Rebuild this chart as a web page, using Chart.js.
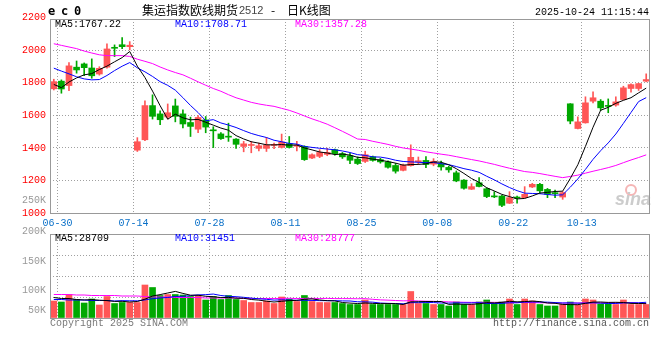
<!DOCTYPE html>
<html><head><meta charset="utf-8">
<script src="https://cdn.jsdelivr.net/npm/chart.js@4.4.1/dist/chart.umd.min.js"></script>
<style>
html,body{margin:0;padding:0;background:#fff;}
#wrap{position:relative;width:660px;height:360px;overflow:hidden;background:#fff;}
canvas{position:absolute;left:0;}
#pc{top:0;} #vc{top:222px;}
</style></head><body>
<div id="wrap"><canvas id="pc" width="660" height="230"></canvas><canvas id="vc" width="660" height="138"></canvas></div>
<script>
const dates = ['06-27','06-30','07-01','07-02','07-03','07-04','07-07','07-08','07-09','07-10','07-11','07-14','07-15','07-16','07-17','07-18','07-21','07-22','07-23','07-24','07-25','07-28','07-29','07-30','07-31','08-01','08-04','08-05','08-06','08-07','08-08','08-11','08-12','08-13','08-14','08-15','08-18','08-19','08-20','08-21','08-22','08-25','08-26','08-27','08-28','08-29','09-01','09-02','09-03','09-04','09-05','09-08','09-09','09-10','09-11','09-12','09-15','09-16','09-17','09-18','09-19','09-22','09-23','09-24','09-25','09-26','09-29','09-30','10-09','10-10','10-13','10-14','10-15','10-16','10-17','10-20','10-21','10-22','10-23'];
const axisDates = ['06-30','07-14','07-28','08-11','08-25','09-08','09-22','10-13'];

const opens = [1763,1810,1783,1896,1916,1891,1854,1896,2018,2034,
 2022,1386,1450,1660,1609,1590,1658,1609,1556,1515,
 1572,1510,1486,1470,1454,1409,1415,1397,1397,1415,
 1403,1426,1410,1409,1338,1348,1360,1389,1365,1352,
 1331,1317,1345,1328,1314,1292,1262,1291,1315,1323,
 1300,1303,1280,1247,1202,1146,1186,1149,1102,1104,
 1060,1096,1094,1160,1176,1145,1123,1098,1671,1519,
 1554,1687,1687,1658,1663,1697,1765,1765,1810];
const highs = [1822,1818,1924,1934,1922,1947,1899,2039,2033,2078,
 2053,1463,1689,1726,1628,1670,1700,1634,1589,1599,
 1593,1530,1494,1552,1458,1440,1440,1429,1464,1429,
 1485,1470,1440,1413,1364,1389,1398,1393,1372,1366,
 1345,1380,1350,1336,1320,1305,1300,1419,1344,1347,
 1334,1319,1288,1258,1206,1180,1217,1155,1131,1108,
 1131,1104,1162,1182,1182,1151,1141,1131,1672,1591,
 1714,1744,1697,1701,1714,1779,1793,1797,1855];
const lows = [1756,1736,1752,1859,1844,1828,1847,1890,1961,2010,
 2002,1378,1444,1577,1542,1578,1560,1522,1470,1493,
 1493,1402,1452,1440,1397,1376,1370,1382,1378,1395,
 1399,1399,1382,1323,1334,1340,1352,1355,1335,1303,
 1298,1310,1318,1306,1276,1245,1258,1288,1297,1278,
 1290,1263,1250,1192,1146,1144,1160,1094,1094,1039,
 1058,1060,1092,1156,1121,1094,1094,1084,1548,1517,
 1552,1677,1630,1616,1656,1695,1742,1753,1806];
const closes = [1807,1762,1904,1879,1893,1843,1889,2008,2012,2022,
 2031,1438,1660,1594,1573,1616,1594,1547,1532,1587,
 1528,1505,1457,1466,1422,1425,1419,1413,1417,1418,
 1436,1403,1414,1328,1358,1372,1372,1365,1345,1324,
 1304,1358,1323,1314,1281,1257,1294,1342,1319,1298,
 1318,1283,1265,1197,1152,1162,1163,1101,1099,1047,
 1094,1092,1115,1176,1136,1115,1119,1125,1565,1560,
 1677,1708,1646,1655,1683,1769,1789,1795,1820];

const ma5 = [1790,1770,1805,1830,1849,1856.2,1881.6,1902.4,1929,1954.8,
 1992.4,1902.2,1832.6,1749,1659.2,1576.2,1607.4,1584.8,1572.4,1575.2,
 1557.6,1539.8,1521.8,1508.6,1475.6,1455,1437.8,1429,1419.2,1418.4,
 1420.6,1417.4,1417.6,1399.8,1387.8,1375,1368.8,1359,1362.4,1355.6,
 1342,1339.2,1330.8,1324.6,1316,1306.6,1293.8,1297.6,1298.6,1302,
 1314.2,1312,1296.6,1272.2,1243,1211.8,1187.8,1155,1135.4,1114.4,
 1100.8,1086.6,1089.4,1104.8,1122.6,1126.8,1132.2,1134.2,1212,1296.8,
 1409.2,1527,1631.2,1649.2,1673.8,1692.2,1708.4,1738.2,1767.22];
const ma10 = [1890,1872,1855,1837,1824,1818,1820,1845,1875,1901.9,
 1924.3,1891.9,1867.5,1839,1807,1784.3,1754.8,1708.7,1660.7,1617.2,
 1566.9,1573.6,1553.3,1540.5,1525.4,1506.3,1488.8,1475.4,1463.9,1447,
 1437.8,1427.6,1423.3,1409.5,1403.1,1397.8,1393.1,1388.3,1381.1,1371.7,
 1358.5,1354,1344.9,1343.5,1335.8,1324.3,1316.5,1314.2,1311.6,1309,
 1310.4,1302.9,1297.1,1285.4,1272.5,1263,1249.9,1225.8,1203.8,1178.7,
 1156.3,1137.2,1122.2,1120.1,1118.5,1113.8,1109.4,1111.8,1158.4,1209.7,
 1268,1329.6,1382.7,1430.6,1485.3,1550.7,1617.7,1684.7,1708.71];
const ma30 = [2040,2030,2020,2010,1995,1983,1972,1967,1967,1967,
 1962,1945,1932,1918,1897,1879,1863,1849,1828,1806,
 1785,1765,1748,1727,1708,1694,1680,1670,1662,1655.4,
 1643,1631,1614.7,1596.3,1578.5,1562.8,1545.6,1524.1,1501.9,1478.6,
 1454.4,1451.7,1440.5,1431.2,1421.4,1409.5,1399.5,1392.6,1385.5,1375.9,
 1368.9,1361.5,1355.1,1346.1,1337.1,1328.4,1319.8,1309.4,1298.8,1286.5,
 1275.1,1264.7,1254.7,1249.7,1242.3,1233.7,1225.3,1217.3,1224.6,1232.5,
 1244.9,1256.6,1267.3,1278.7,1292.1,1309.2,1325.7,1340.8,1357.28];

const volumes = [34000,32000,47000,37000,30000,38000,26000,43000,29000,31000,
 31000,31000,66000,61000,45000,47000,47000,46000,43000,45000,
 36000,43000,37000,45000,37000,35000,31000,31000,34000,29000,
 42000,38000,33000,45000,33000,31000,31000,31000,29000,27000,
 27000,36000,27000,27000,27000,27000,27000,53000,29000,29000,
 27000,27000,24000,32000,27000,27000,32000,36000,29000,32000,
 38000,27000,38000,34000,27000,24000,24000,27000,32000,26000,
 38000,36000,28000,28000,27000,36000,27000,27000,27000];
const volMa5 = [41000,39000,39000,37000,36000,36800,35600,34800,33200,33400,
 32000,33000,37600,44000,46800,50000,53200,49200,45600,45600,
 43400,42600,40800,41200,39600,39400,37000,35800,33600,32000,
 33400,34800,35200,37400,38200,36000,34600,34200,31000,29800,
 29000,30000,29200,28800,28800,28800,27000,32200,32600,33000,
 33000,33000,27200,27800,27400,27400,28400,30800,30200,31200,
 33400,32400,32800,33800,32800,30000,29400,27200,26800,26600,
 29400,31800,32000,31200,31400,31000,29200,29000,28709];
const volMa10 = [37000,37000,36000,36000,36000,35000,35000,35000,34000,34700,
 34400,34300,36200,38600,40100,41000,43100,43400,44800,46200,
 46700,47900,45000,43400,42600,41400,39800,38300,37400,35800,
 36400,35900,35500,35500,35100,34700,34700,34700,34200,34000,
 32500,32300,31700,29900,29300,28900,28500,30700,30700,30900,
 30900,30000,29700,30200,30200,30200,30700,29000,29000,29300,
 30400,30400,31800,32000,32000,31700,30900,30000,30300,29700,
 29700,30600,29600,29000,29000,30200,30500,30500,31451];
const volMa30 = [47000,47000,47000,46000,46000,45000,45000,45000,45000,44000,
 44000,44000,43000,42000,42000,42000,41000,41000,41000,41000,
 40000,40000,40000,40000,40000,39000,39000,39000,39000,38900,
 39200,39400,38900,39200,39300,39000,39200,38800,38800,38700,
 38500,38700,37400,36300,35700,35000,34300,34600,34100,33600,
 33300,32700,32300,31900,31500,31300,31300,31500,31300,31400,
 31300,30900,31100,30700,30500,30300,30000,29900,30000,30000,
 30300,30300,30400,30400,30400,30700,30700,29800,28777];

const priceTicks = [1000,1200,1400,1600,1800,2000,2200];
const volTickLabels = ['250K','200K','150K','100K','50K'];
const priceMaLabels = ['MA5:1767.22','MA10:1708.71','MA30:1357.28'];
const volMaLabels = ['MA5:28709','MA10:31451','MA30:28777'];
const titleParts = ['集运指数欧线期货','2512','-','日K线图'];
const symbol = 'ec0';
const stamp = '2025-10-24 11:15:44';
const copyright = 'Copyright 2025 SINA.COM';
const siteUrl = 'http://finance.sina.com.cn';
const logoText = 'sina';

const RED = '#ff5656', GREEN = '#00a800';
const MA_COLORS = ['#000000', '#0000ff', '#ff00ff'];
const MONO = '"Liberation Mono","DejaVu Sans Mono",monospace';
const GRID = '#a0a0a0', NONE = 'rgba(0,0,0,0)';
const candleColors = closes.map((c, i) => c >= opens[i] ? RED : GREEN);

function xAxis(showLabels) {
  return {
    type: 'category', offset: true,
    grid: { offset: true, drawTicks: false, lineWidth: 1,
      color: c => axisDates.includes(dates[c.index]) ? GRID : NONE },
    border: { display: false, dash: [1, 2] },
    ticks: { display: showLabels, autoSkip: false, maxRotation: 0, minRotation: 0,
      padding: 4, labelOffset: -3.8, color: '#0a70c8', font: { family: MONO, size: 10 },
      callback: (v, i) => axisDates.includes(dates[i]) ? dates[i] : '' },
    afterFit: s => { s.height = showLabels ? 17 : 42; }
  };
}
function frame(ctx, a) {
  ctx.save();
  ctx.strokeStyle = '#999'; ctx.lineWidth = 1; ctx.setLineDash([]);
  ctx.strokeRect(a.left + 0.5, a.top + 0.5, a.right - a.left - 1, a.bottom - a.top);
  ctx.restore();
}
function txt(ctx, s, x, y, color, font, align) {
  ctx.font = font; ctx.fillStyle = color; ctx.textAlign = align || 'left';
  ctx.textBaseline = 'middle'; ctx.fillText(s, x, y);
}
const lineDs = (label, data, color) => ({ type: 'line', label, data, borderColor: color,
  borderWidth: 1, pointRadius: 0, tension: 0, fill: false, order: 1 });

const pricePlugin = {
  id: 'priceDecor',
  beforeDatasetsDraw(chart) {
    const ctx = chart.ctx; ctx.save();
    ctx.beginPath(); ctx.arc(631, 190, 5, 0, Math.PI * 2);
    ctx.strokeStyle = 'rgba(236,120,120,0.55)'; ctx.lineWidth = 2; ctx.stroke();
    ctx.font = 'italic bold 18px "Liberation Sans"'; ctx.fillStyle = '#cccccc';
    ctx.textAlign = 'left'; ctx.textBaseline = 'alphabetic'; ctx.fillText(logoText, 615, 205);
    ctx.restore();
  },
  afterDraw(chart) {
    const ctx = chart.ctx, a = chart.chartArea;
    frame(ctx, a);
    ctx.save();
    const f10 = '10px ' + MONO;
    // symbol
    const sx = [48, 61, 74];
    for (let k = 0; k < symbol.length; k++) txt(ctx, symbol[k], sx[k], 11.5, '#000', 'bold 12px "DejaVu Sans Mono"');
    // title
    const cjk = '12px "Noto Sans CJK SC"';
    txt(ctx, titleParts[0], 142, 10.5, '#000', cjk);
    txt(ctx, titleParts[1], 239, 10.5, '#444', '11px "Liberation Sans"');
    txt(ctx, titleParts[2], 271, 10.5, '#000', cjk);
    txt(ctx, titleParts[3], 287, 10.5, '#000', cjk);
    // timestamp
    txt(ctx, stamp, 649, 12, '#000', f10, 'right');
    // MA labels
    const mx = [55, 175, 295];
    priceMaLabels.forEach((s, k) => txt(ctx, s, mx[k], 24.5, MA_COLORS[k], f10));
    // stray volume label
    txt(ctx, volTickLabels[0], 46, 200.5, '#999', f10, 'right');
    ctx.restore();
  }
};

const volPlugin = {
  id: 'volDecor',
  afterDraw(chart) {
    const ctx = chart.ctx, a = chart.chartArea;
    frame(ctx, a);
    ctx.save();
    const f10 = '10px ' + MONO;
    const mx = [55, 175, 295];
    volMaLabels.forEach((s, k) => txt(ctx, s, mx[k], 16, MA_COLORS[k], f10));
    const vy = [9, 39, 68, 88];
    volTickLabels.slice(1).forEach((s, k) => txt(ctx, s, 46, vy[k], '#999', f10, 'right'));
    txt(ctx, copyright, 50, 101.5, '#7a7a7a', f10);
    txt(ctx, siteUrl, 649, 101.5, '#555', f10, 'right');
    ctx.restore();
  }
};

new Chart(document.getElementById('pc'), {
  type: 'bar',
  data: {
    labels: dates,
    datasets: [
      lineDs('MA5', ma5, MA_COLORS[0]),
      lineDs('MA10', ma10, MA_COLORS[1]),
      lineDs('MA30', ma30, MA_COLORS[2]),
      { type: 'bar', label: 'body', data: opens.map((o, i) => [o, closes[i]]),
        backgroundColor: candleColors, barThickness: 6, minBarLength: 1, grouped: false, order: 2 },
      { type: 'bar', label: 'wick', data: lows.map((l, i) => [l, highs[i]]),
        backgroundColor: candleColors, barThickness: 1, grouped: false, order: 3 }
    ]
  },
  options: {
    responsive: false, animation: false, devicePixelRatio: 1, events: [],
    layout: { padding: { left: 0, right: 10, top: 19, bottom: 0 } },
    plugins: { legend: { display: false }, tooltip: { enabled: false } },
    scales: {
      x: xAxis(true),
      y: { type: 'linear', min: 1000, max: 2192,
        afterBuildTicks: s => { s.ticks = priceTicks.map(v => ({ value: v })); },
        grid: { drawTicks: false, color: c => (c.tick && c.tick.value > 1000 && c.tick.value < 2200) ? GRID : NONE },
        border: { display: false, dash: [1, 2] },
        ticks: { padding: 4, color: '#ff0000', font: { family: MONO, size: 10 }, callback: v => String(v) },
        afterFit: s => { s.width = 50; } }
    }
  },
  plugins: [pricePlugin]
});

new Chart(document.getElementById('vc'), {
  type: 'bar',
  data: {
    labels: dates,
    datasets: [
      lineDs('VMA5', volMa5, MA_COLORS[0]),
      lineDs('VMA10', volMa10, MA_COLORS[1]),
      lineDs('VMA30', volMa30, MA_COLORS[2]),
      { type: 'bar', label: 'volume', data: volumes, backgroundColor: candleColors,
        barThickness: 6, grouped: false, order: 2 }
    ]
  },
  options: {
    responsive: false, animation: false, devicePixelRatio: 1, events: [],
    layout: { padding: { left: 0, right: 10, top: 12, bottom: 0 } },
    plugins: { legend: { display: false }, tooltip: { enabled: false } },
    scales: {
      x: xAxis(false),
      y: { type: 'linear', min: 0, max: 168000,
        ticks: { display: false, stepSize: 42000 },
        grid: { drawTicks: false, color: c => (c.tick && c.tick.value > 0 && c.tick.value < 168000) ? GRID : NONE },
        border: { display: false, dash: [1, 2] },
        afterFit: s => { s.width = 50; } }
    }
  },
  plugins: [volPlugin]
});
</script>
</body></html>
